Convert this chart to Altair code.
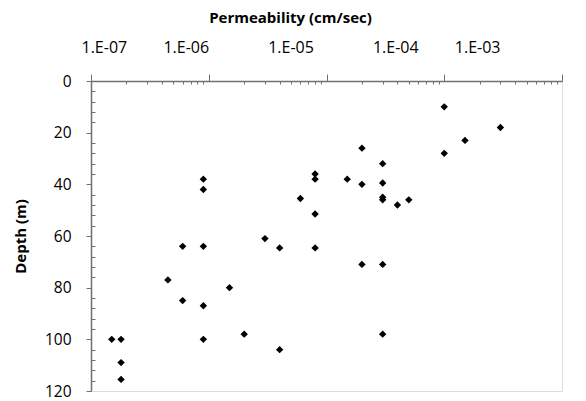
import altair as alt
import pandas as pd

# Permeability (cm/sec) and depth (m)
perm = [9e-7, 9e-7, 6e-7, 9e-7, 3e-6, 4e-6, 6e-6, 8e-6, 8e-6, 8e-6, 8e-6,
        1e-4, 3e-4, 1.5e-4, 1e-4, 2e-5, 3e-5, 1.5e-5, 2e-5, 3e-5, 3e-5, 3e-5, 4e-5, 5e-5,
        4.5e-7, 1.5e-6, 6e-7, 9e-7, 1.5e-7, 1.8e-7, 9e-7, 2e-6, 4e-6, 1.8e-7, 1.8e-7,
        2e-5, 3e-5, 3e-5]
depth = [38, 42, 64, 64, 61, 64.6, 45.5, 36, 38, 51.5, 64.6,
         10, 18, 23, 28, 26, 32, 38, 40, 39.5, 45, 46, 48, 46,
         77, 80, 85, 87, 100, 100, 100, 98, 104, 109, 115.5,
         71, 71, 98]

x_major = [1e-7, 1e-6, 1e-5, 1e-4, 1e-3]
x_minor = [m * 10.0 ** e for e in range(-7, -3) for m in range(2, 10)]
y_major = [0, 20, 40, 60, 80, 100, 120]
y_minor = [v for v in range(0, 121, 4) if v % 20 != 0]

df = pd.DataFrame({"perm": perm, "depth": depth})
base = alt.Chart(df)

xdom = [1e-7, 1e-3]
ydom = [0, 120]
axis_color = "#707070"
font = "Open Sans"

points = base.mark_point(shape="diamond", filled=True, color="black", size=55, opacity=1).encode(
    x=alt.X("perm:Q",
            scale=alt.Scale(type="log", domain=xdom, nice=False),
            axis=alt.Axis(orient="top", values=x_major, labels=False, title=None,
                          tickSize=7, tickColor=axis_color, tickWidth=1,
                          domainColor=axis_color, domainWidth=1.5, grid=False)),
    y=alt.Y("depth:Q",
            scale=alt.Scale(domain=ydom, reverse=True, nice=False, zero=False),
            axis=alt.Axis(orient="left", values=y_major, tickSize=5, tickColor=axis_color,
                          domainColor=axis_color, domainWidth=1.5, grid=False,
                          labelFont=font, labelFontSize=15.5, labelColor="black",
                          labelPadding=15,
                          title="Depth (m)", titleFont=font, titleFontSize=15,
                          titleFontWeight="bold", titleColor="black",
                          titleAngle=270, titleX=-71, titleY=155,
                          titleAlign="center", titleBaseline="middle")),
)

minor = base.mark_point(opacity=0).encode(
    x=alt.X("perm:Q",
            scale=alt.Scale(type="log", domain=xdom, nice=False),
            axis=alt.Axis(orient="top", values=x_minor, labels=False, title=None,
                          domain=False, tickSize=3, offset=-3, tickColor=axis_color,
                          grid=False)),
    y=alt.Y("depth:Q",
            scale=alt.Scale(domain=ydom, reverse=True, nice=False, zero=False),
            axis=alt.Axis(orient="left", values=y_minor, labels=False, title=None,
                          domain=False, tickSize=4, offset=-4, tickColor=axis_color,
                          grid=False)),
)

labels = base.mark_point(opacity=0).encode(
    x=alt.X("perm:Q",
            scale=alt.Scale(type="log", domain=xdom, nice=False, range=[-10, 409]),
            axis=alt.Axis(orient="top", values=x_major, domain=False, ticks=False, tickSize=0,
                          grid=False, labelFont=font, labelFontSize=16, labelColor="black",
                          labelPadding=26,
                          labelExpr="'1.E-0' + round(-log(datum.value) / LN10)",
                          title="Permeability (cm/sec)", titleFont=font, titleFontSize=15,
                          titleFontWeight="bold", titleColor="black",
                          titleX=199, titleY=-59, titleAlign="center",
                          titleBaseline="alphabetic")),
    y=alt.Y("depth:Q", scale=alt.Scale(domain=ydom, reverse=True, nice=False), axis=None),
)

chart = alt.layer(points, minor, labels).resolve_scale(
    x="independent", y="independent"
).properties(
    width=471, height=310,
    autosize=alt.AutoSizeParams(type="none"),
    padding={"left": 83, "top": 73, "right": 10, "bottom": 9},
).configure_view(
    stroke="#1a1a1a", strokeWidth=2
).configure(background="white")

chart.save("out.html", embed_options={"renderer": "svg", "actions": False})
